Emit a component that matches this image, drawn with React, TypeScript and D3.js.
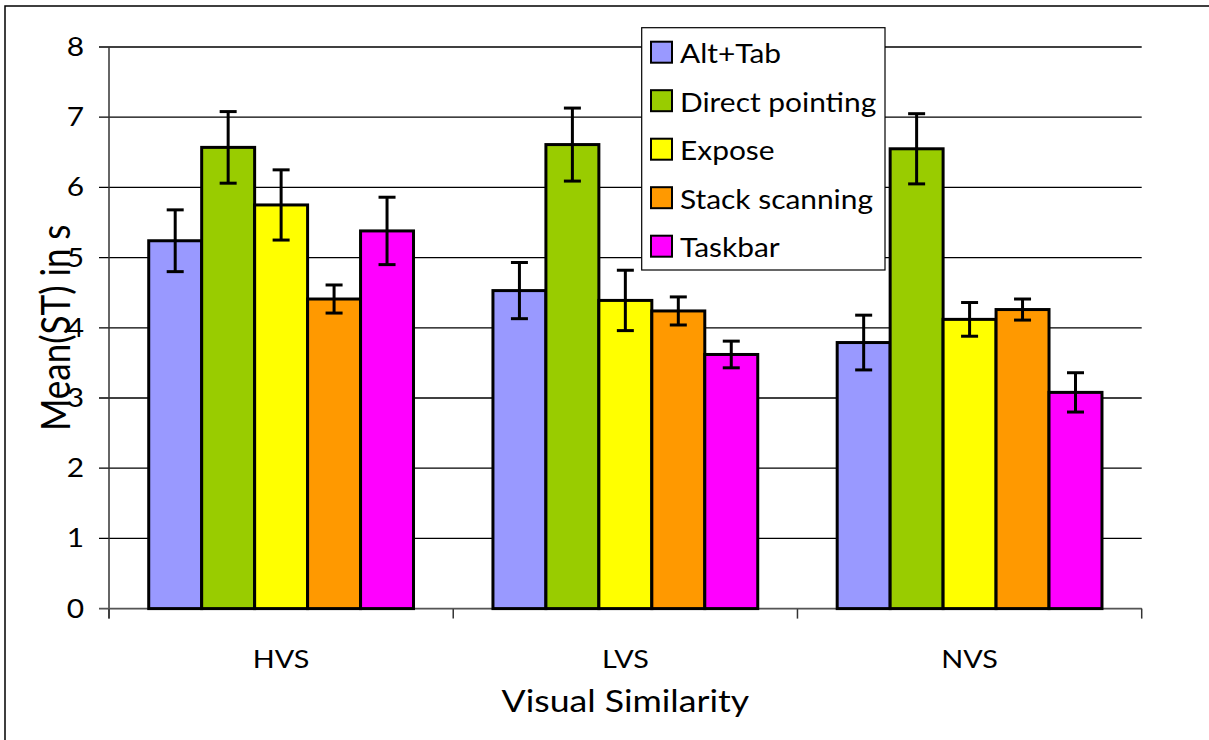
import React from "react";
import * as d3 from "d3";

const categories = ["HVS", "LVS", "NVS"];
const seriesNames = ["Alt+Tab", "Direct pointing", "Expose", "Stack scanning", "Taskbar"];
const seriesColors = ["#9999FF", "#99CC00", "#FFFF00", "#FF9900", "#FF00FF"];

const altTab = [5.24, 4.53, 3.79];
const directPointing = [6.57, 6.61, 6.55];
const expose = [5.75, 4.39, 4.12];
const stackScanning = [4.41, 4.24, 4.26];
const taskbar = [5.38, 3.62, 3.08];

const altTabErr = [0.44, 0.4, 0.39];
const directPointingErr = [0.51, 0.52, 0.5];
const exposeErr = [0.5, 0.43, 0.24];
const stackScanningErr = [0.2, 0.2, 0.15];
const taskbarErr = [0.48, 0.19, 0.28];

const yTicks = [0, 1, 2, 3, 4, 5, 6, 7, 8];

const seriesValues = [altTab, directPointing, expose, stackScanning, taskbar];
const seriesErrors = [altTabErr, directPointingErr, exposeErr, stackScanningErr, taskbarErr];

const W = 1209;
const H = 740;
const FONT = "Lato, 'Open Sans', sans-serif";
const SX = 1.15;

export default function App() {
  const left = 109;
  const right = 1141.7;
  const top = 47;
  const bottom = 608.6;

  const x0 = d3.scaleBand<string>().domain(categories).range([left, right]).paddingInner(0).paddingOuter(0);
  const x1 = d3
    .scaleBand<string>()
    .domain(seriesNames)
    .range([0, x0.bandwidth()])
    .paddingInner(0)
    .paddingOuter(0.75);
  const y = d3.scaleLinear().domain([0, 8]).range([bottom, top]);

  const capW = 17;
  const boundaries = [...categories.map((c) => x0(c) as number), right];

  const legX = 641.7;
  const legY = 27.7;
  const legW = 243.3;
  const legH = 242.3;
  const rowStep = 48.5;

  const sText = (x: number, yy: number, txt: string, size: number, anchor: string, key?: string) => (
    <text
      key={key}
      transform={`translate(${x},${yy}) scale(${SX},1)`}
      fontFamily={FONT}
      fontSize={size}
      textAnchor={anchor}
      fill="#000"
    >
      {txt}
    </text>
  );

  return (
    <svg width={W} height={H} style={{ position: "absolute", left: 0, top: 0 }}>
      <rect x={0} y={0} width={W} height={H} fill="#fff" />
      <rect x={5} y={6} width={W + 20} height={H + 20} fill="none" stroke="#000" strokeWidth={1.5} />

      {/* gridlines */}
      {yTicks.map((t) => (
        <line key={"g" + t} x1={left - 10} x2={right} y1={y(t)} y2={y(t)} stroke="#000" strokeWidth={1.3} />
      ))}
      {/* y axis line */}
      <line x1={left} x2={left} y1={top} y2={bottom + 10} stroke="#333" strokeWidth={1.5} />
      {/* x axis ticks */}
      {boundaries.map((b, i) => (
        <line key={"xt" + i} x1={b} x2={b} y1={bottom} y2={bottom + 10} stroke="#333" strokeWidth={1.5} />
      ))}
      <line x1={left - 10} x2={right} y1={bottom} y2={bottom} stroke="#555" strokeWidth={1.5} />

      {/* y tick labels */}
      {yTicks.map((t) => sText(84, y(t) + 9, String(t), 26, "end", "yl" + t))}

      {/* bars */}
      {categories.map((c, ci) =>
        seriesNames.map((s, si) => {
          const bx = (x0(c) as number) + (x1(s) as number);
          const v = seriesValues[si][ci];
          return (
            <rect
              key={c + s}
              x={bx}
              y={y(v)}
              width={x1.bandwidth()}
              height={y(0) - y(v)}
              fill={seriesColors[si]}
              stroke="#000"
              strokeWidth={3}
            />
          );
        })
      )}

      {/* error bars */}
      {categories.map((c, ci) =>
        seriesNames.map((s, si) => {
          const cx = (x0(c) as number) + (x1(s) as number) + x1.bandwidth() / 2;
          const v = seriesValues[si][ci];
          const e = seriesErrors[si][ci];
          return (
            <g key={"e" + c + s} stroke="#000" strokeWidth={3}>
              <line x1={cx} x2={cx} y1={y(v + e)} y2={y(v - e)} />
              <line x1={cx - capW / 2} x2={cx + capW / 2} y1={y(v + e)} y2={y(v + e)} />
              <line x1={cx - capW / 2} x2={cx + capW / 2} y1={y(v - e)} y2={y(v - e)} />
            </g>
          );
        })
      )}

      {/* category labels */}
      {categories.map((c) => sText((x0(c) as number) + x0.bandwidth() / 2, 668, c, 25, "middle", "c" + c))}

      {/* x title */}
      {sText((left + right) / 2, 712, "Visual Similarity", 31, "middle")}

      {/* y title */}
      <text
        transform={`translate(70,${(top + bottom) / 2}) scale(${SX},1) rotate(-90)`}
        fontFamily={FONT}
        fontSize={35}
        textAnchor="middle"
        fill="#000"
      >
        Mean(ST) in s
      </text>

      {/* legend */}
      <rect x={legX} y={legY} width={legW} height={legH} fill="#fff" stroke="#000" strokeWidth={1.2} />
      {seriesNames.map((s, i) => (
        <g key={"l" + s}>
          <rect
            x={651}
            y={41.7 + i * rowStep}
            width={21}
            height={21}
            fill={seriesColors[i]}
            stroke="#000"
            strokeWidth={2}
          />
          {sText(680, 63 + i * rowStep, s, 26, "start")}
        </g>
      ))}
    </svg>
  );
}
